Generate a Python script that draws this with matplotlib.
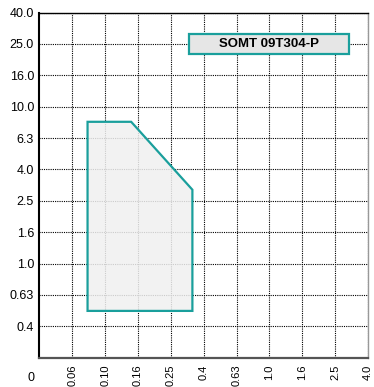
import numpy as np
import matplotlib.pyplot as plt
from matplotlib.patches import Polygon, Rectangle

# feed per tooth (fz, mm) and depth of cut (ap, mm) grid steps
fz_ticks = ["0.06", "0.10", "0.16", "0.25", "0.4", "0.63", "1.0", "1.6", "2.5", "4.0"]
ap_ticks = ["0.4", "0.63", "1.0", "1.6", "2.5", "4.0", "6.3", "10.0", "16.0", "25.0", "40.0"]

# application range of the insert
range_fz = [0.076, 0.145, 0.34, 0.34, 0.076]
range_ap = [8.0, 8.0, 2.95, 0.5, 0.5]

insert_name = "SOMT 09T304-P"

TEAL = "#1a9f9c"
FONT = ["Liberation Sans", "DejaVu Sans"]


def to_pos(values, ticks):
    # grid is evenly spaced per step, log spacing inside a step; index 0 is "0"
    levels = np.log([float(t) for t in ticks])
    idx = np.arange(1, len(ticks) + 1)
    return np.interp(np.log(values), levels, idx)


def main():
    fig = plt.figure(figsize=(3.74, 3.87), dpi=100)
    ax = fig.add_axes([0.1056, 0.0757, 0.8784, 0.892])

    nx, ny = len(fz_ticks), len(ap_ticks)
    ax.set_xlim(0, nx)
    ax.set_ylim(0, ny)

    xs = np.arange(1, nx + 1)
    ys = np.arange(1, ny + 1)
    ax.set_xticks(xs)
    ax.set_yticks(ys)
    ax.set_xticklabels(fz_ticks, rotation=90, family=FONT, fontsize=8)
    ax.set_yticklabels(ap_ticks, family=FONT, fontsize=9)
    ax.tick_params(length=0, pad=4)
    ax.tick_params(axis="x", pad=5)
    ax.annotate("0", xy=(0, 0), xytext=(-6, -10), textcoords="offset points",
                ha="center", va="top", family=FONT, fontsize=9)

    ax.grid(True, color="black", linestyle=(0, (1, 1)), linewidth=0.8, zorder=0)
    ax.set_axisbelow(True)

    ax.spines["left"].set_linewidth(1.5)
    ax.spines["left"].set_color("black")
    ax.spines["bottom"].set_linewidth(1.6)
    ax.spines["bottom"].set_color("#555555")
    ax.spines["top"].set_linewidth(1.0)
    ax.spines["top"].set_color("black")
    ax.spines["right"].set_linewidth(1.0)
    ax.spines["right"].set_color("#999999")

    px = to_pos(np.array(range_fz), fz_ticks)
    py = to_pos(np.array(range_ap), ap_ticks)
    area = Polygon(np.column_stack([px, py]), closed=True,
                   facecolor="#f0f0f0", alpha=0.85, edgecolor="none", zorder=2)
    ax.add_patch(area)
    edge = Polygon(np.column_stack([px, py]), closed=True, fill=False,
                   edgecolor=TEAL, linewidth=1.6, zorder=3)
    ax.add_patch(edge)

    # name tag, centred on the 1.0 / 25.0 grid crossing
    box = Rectangle((4.55, ny - 1 - 0.33), 4.87, 0.66, facecolor="#e6e6e6",
                    edgecolor=TEAL, linewidth=1.6, zorder=4)
    ax.add_patch(box)
    ax.text(7.0, ny - 1, insert_name, ha="center", va="center", fontsize=9.5,
            fontweight="bold", family=FONT, zorder=5)

    fig.savefig("out.png", dpi=100)


if __name__ == "__main__":
    main()
